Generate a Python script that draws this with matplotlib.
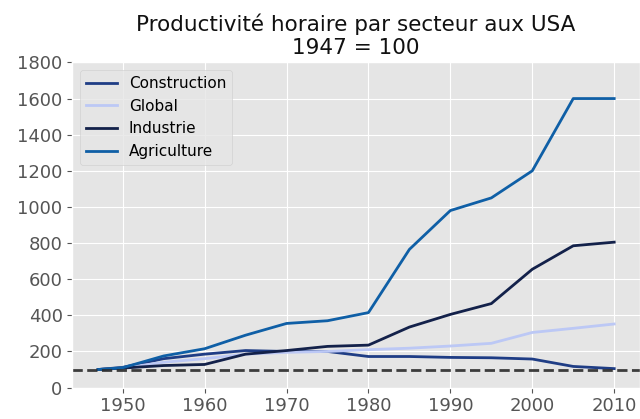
import numpy as np
import matplotlib
import matplotlib.pyplot as plt

matplotlib.use('Agg')
plt.style.use('ggplot')

# productivity index, 1947 = 100
years = [1947, 1950, 1955, 1960, 1965, 1970, 1975, 1980, 1985, 1990, 1995, 2000, 2005, 2010]
construction = [100, 112, 160, 185, 205, 200, 200, 172, 172, 167, 165, 158, 117, 105]
global_ = [100, 108, 140, 160, 185, 195, 200, 210, 218, 230, 245, 305, 328, 352]
industrie = [100, 108, 122, 128, 185, 205, 228, 235, 335, 405, 465, 655, 785, 805]
agriculture = [100, 110, 175, 215, 290, 355, 370, 415, 765, 980, 1050, 1200, 1600, 1600]

series = {
    "Construction": (construction, "#1f3d85"),
    "Global": (global_, "#bcc8f5"),
    "Industrie": (industrie, "#13214a"),
    "Agriculture": (agriculture, "#0f5fa6"),
}

fig = plt.figure(figsize=(6.4, 4.19), dpi=100)
ax = fig.add_axes([0.113, 0.075, 0.887, 0.776])

for name, (vals, col) in series.items():
    ax.plot(years, vals, color=col, lw=2, label=name)

ax.axhline(100, color="#2a2a2a", ls="--", lw=2, alpha=0.9)

ax.set_ylim(0, 1800)
ax.set_yticks(np.arange(0, 1801, 200))
ax.set_xticks(np.arange(1950, 2011, 10))
ax.tick_params(labelsize=13)
ax.set_title("Productivité horaire par secteur aux USA\n1947 = 100", fontsize=15.5, color="#111111")
ax.legend(loc="upper left", fontsize=11)

fig.savefig("out.png", dpi=100)
